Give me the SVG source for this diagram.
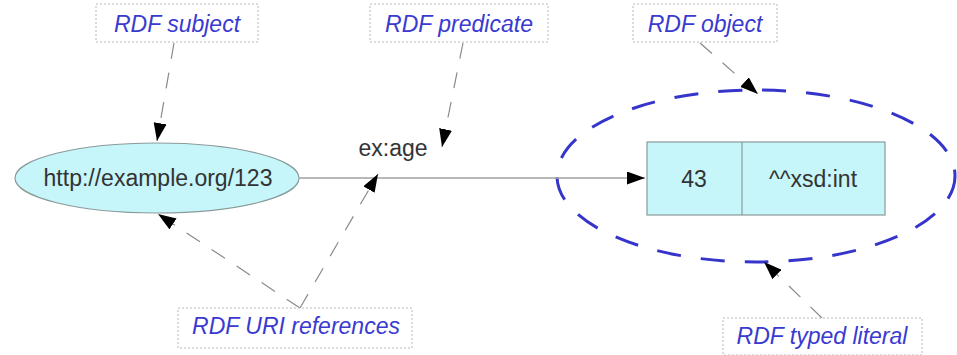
<svg xmlns="http://www.w3.org/2000/svg" width="957" height="355" viewBox="0 0 957 355">
  <style>
    .lbl { fill: #ffffff; stroke: #b8b8b8; stroke-width: 1; stroke-dasharray: 2 2; }
    .lbltxt { font-family: "Liberation Sans", Arial, sans-serif; font-size: 23px; font-style: italic; fill: #3a3ad0; text-anchor: middle; }
    .ntxt { font-family: "Liberation Sans", Arial, sans-serif; font-size: 23px; fill: #333333; text-anchor: middle; }
    .node { fill: #c6f6fa; stroke: #8a9a9a; stroke-width: 1.2; }
    .edge { stroke: #a0a0a0; stroke-width: 1.5; fill: none; }
    .pointer { stroke: #8a8a8a; stroke-width: 1.2; fill: none; stroke-dasharray: 16 14; }
  </style>
  <defs>
    <marker id="ah" viewBox="0 0 18 13" refX="18" refY="6.5" markerWidth="18" markerHeight="13" markerUnits="userSpaceOnUse" orient="auto">
      <path d="M0,0 L18,6.5 L0,13 Z" fill="#000000"/>
    </marker>
  </defs>
  <rect width="957" height="355" fill="#ffffff"/>

  <!-- typed literal grouping -->
  <g id="literal-group">
    <ellipse cx="756" cy="176" rx="199" ry="86" fill="none" stroke="#3535cc" stroke-width="3" stroke-dasharray="24 20"/>
  </g>

  <!-- nodes -->
  <g id="subject">
    <ellipse class="node" cx="157" cy="178" rx="142" ry="35"/>
    <text class="ntxt" x="158" y="186">http://example.org/123</text>
  </g>
  <g id="literal">
    <rect class="node" x="647" y="142" width="238" height="73"/>
    <line x1="742" y1="142" x2="742" y2="215" stroke="#8a9a9a" stroke-width="1.2"/>
    <text class="ntxt" x="694" y="187">43</text>
    <text class="ntxt" x="813" y="187">^^xsd:int</text>
  </g>

  <!-- connectors -->
  <g id="connectors">
    <line class="edge" x1="299" y1="178" x2="645" y2="178" marker-end="url(#ah)"/>
    <text class="ntxt" x="393" y="156">ex:age</text>
    <line class="pointer" x1="174" y1="43" x2="157" y2="141" marker-end="url(#ah)"/>
    <line class="pointer" x1="463" y1="43" x2="442" y2="147" marker-end="url(#ah)"/>
    <line class="pointer" x1="700" y1="43" x2="758" y2="94" marker-end="url(#ah)"/>
    <line class="pointer" x1="300" y1="308" x2="158" y2="214" marker-end="url(#ah)"/>
    <line class="pointer" x1="300" y1="308" x2="378" y2="174" marker-end="url(#ah)"/>
    <line class="pointer" x1="822" y1="318" x2="764" y2="262" marker-end="url(#ah)"/>
  </g>

  <!-- annotation labels -->
  <g id="label-subject">
    <rect class="lbl" x="96" y="4" width="162" height="38"/>
    <text class="lbltxt" x="177" y="32">RDF subject</text>
  </g>
  <g id="label-predicate">
    <rect class="lbl" x="370" y="4" width="178" height="38"/>
    <text class="lbltxt" x="459" y="32">RDF predicate</text>
  </g>
  <g id="label-object">
    <rect class="lbl" x="633" y="4" width="144" height="38"/>
    <text class="lbltxt" x="705" y="32">RDF object</text>
  </g>
  <g id="label-uri">
    <rect class="lbl" x="178" y="308" width="234" height="40"/>
    <text class="lbltxt" x="296" y="334">RDF URI references</text>
  </g>
  <g id="label-typed">
    <rect class="lbl" x="723" y="318" width="199" height="37"/>
    <text class="lbltxt" x="822" y="344">RDF typed literal</text>
  </g>
</svg>
